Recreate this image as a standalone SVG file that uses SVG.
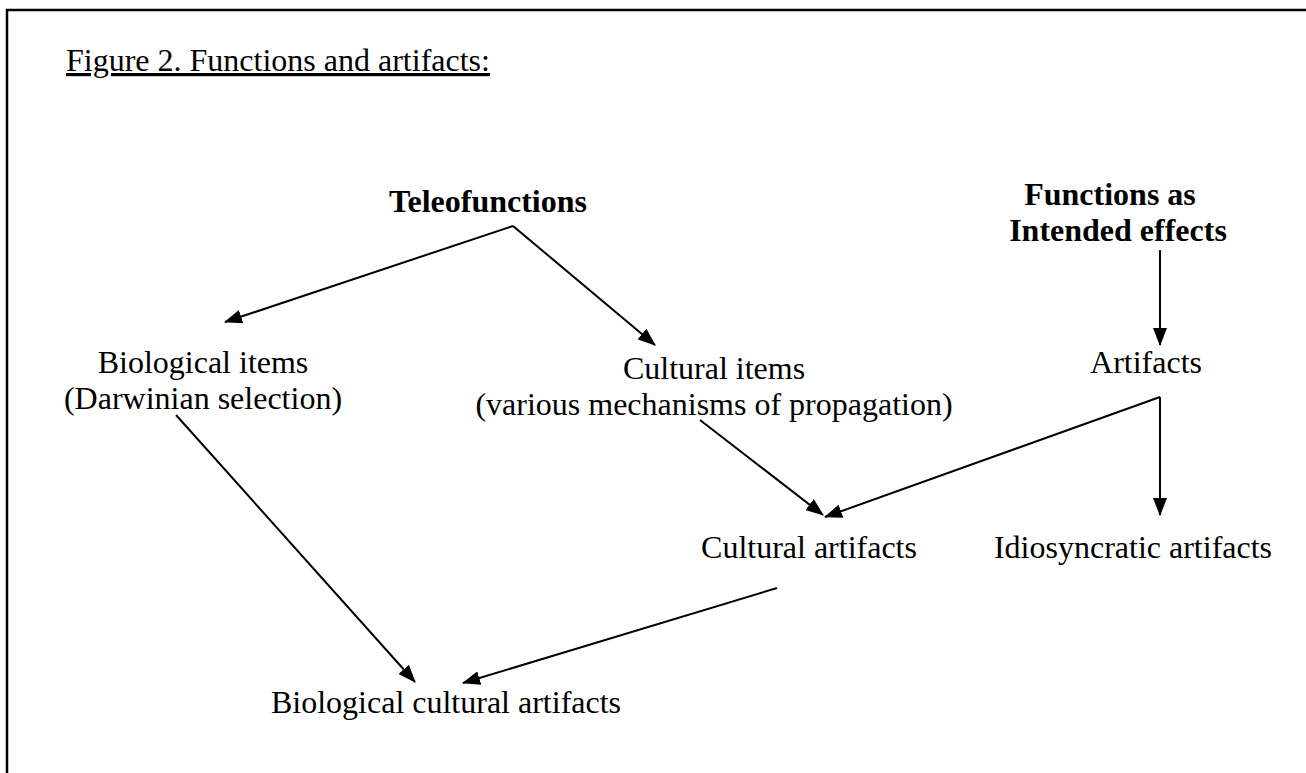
<svg xmlns="http://www.w3.org/2000/svg" width="1306" height="773" viewBox="0 0 1306 773">
<style>
text{font-family:"Liberation Serif","Times New Roman",serif;font-size:32px;fill:#000}
.b{font-weight:bold}
.c{text-anchor:middle}
.ln{stroke:#000;stroke-width:2;fill:none}
</style>
<defs>
<marker id="ah" markerUnits="userSpaceOnUse" markerWidth="18" markerHeight="14" refX="17" refY="7" orient="auto">
<path d="M0,0 L18,7 L0,14 z" fill="#000"/>
</marker>
</defs>
<rect width="1306" height="773" fill="#fff"/>
<path d="M7,773 L7,10 L1306,10" stroke="#000" stroke-width="2.5" fill="none"/>
<text x="66" y="71" text-decoration="underline">Figure 2. Functions and artifacts:</text>
<g id="teleofunctions"><text class="b c" x="488" y="212">Teleofunctions</text></g>
<g id="intended"><text class="b c" x="1110" y="205">Functions as</text><text class="b c" x="1118" y="241">Intended effects</text></g>
<g id="biological"><text class="c" x="203" y="373">Biological items</text><text class="c" x="203" y="409">(Darwinian selection)</text></g>
<g id="cultural"><text class="c" x="714" y="379">Cultural items</text><text class="c" x="714" y="415">(various mechanisms of propagation)</text></g>
<g id="artifacts"><text class="c" x="1146" y="373">Artifacts</text></g>
<g id="cultural-artifacts"><text class="c" x="809" y="558">Cultural artifacts</text></g>
<g id="idiosyncratic"><text class="c" x="1133" y="558">Idiosyncratic artifacts</text></g>
<g id="bio-cultural"><text class="c" x="446" y="713">Biological cultural artifacts</text></g>
<g id="connectors">
<path class="ln" d="M513,226 L225,322" marker-end="url(#ah)"/>
<path class="ln" d="M513,226 L655,345" marker-end="url(#ah)"/>
<path class="ln" d="M1160,250 L1160,345" marker-end="url(#ah)"/>
<path class="ln" d="M1160,397 L825,517" marker-end="url(#ah)"/>
<path class="ln" d="M1160,397 L1160,515" marker-end="url(#ah)"/>
<path class="ln" d="M700,420 L823,515" marker-end="url(#ah)"/>
<path class="ln" d="M176,415 L415,682" marker-end="url(#ah)"/>
<path class="ln" d="M777,588 L463,683" marker-end="url(#ah)"/>
</g>
</svg>
